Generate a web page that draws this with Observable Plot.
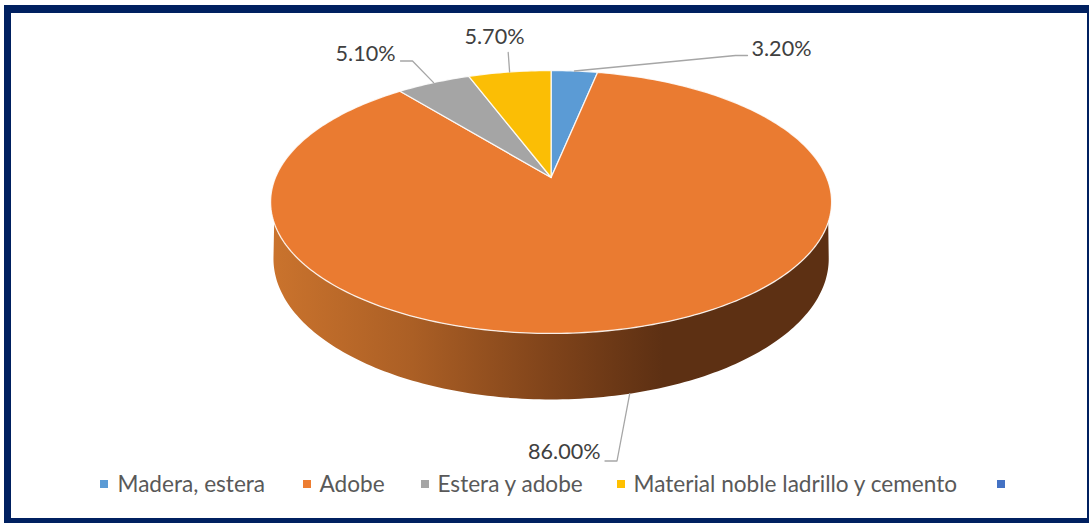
<!DOCTYPE html>
<html><head><meta charset="utf-8">
<script src="https://cdn.jsdelivr.net/npm/d3@7"></script>
<script src="https://cdn.jsdelivr.net/npm/@observablehq/plot@0.6"></script>
<style>html,body{margin:0;padding:0;background:#fff;overflow:hidden}svg{display:block}</style>
</head><body><div id="chart"></div>
<script>
// data
const categories = ["Madera, estera", "Adobe", "Estera y adobe", "Material noble ladrillo y cemento"];
const values = [3.2, 86.0, 5.1, 5.7];
const valueLabels = ["3.20%", "86.00%", "5.10%", "5.70%"];
const legendLabels = ["Madera, estera", "Adobe", "Estera y adobe", "Material noble ladrillo y cemento", ""];
const sliceColors = ["#5B9BD5", "#EA7B31", "#A5A5A5", "#FBBE05"];
const legendColors = ["#5B9BD5", "#ED7D31", "#A5A5A5", "#FFC000", "#4472C4"];

// layout (chart units = px)
const W = 1089, H = 523;
const P = {x0: 550.6, y0: 177, a: 275.6, b: 126.9, k: 0.1863, depth: 55.9, sink: 0.01};
const labelPos = [[751, 48.5], [600, 452], [395, 54], [464, 37]];
const labelAnchor = ["start", "end", "end", "start"];
const leaderVia = [[[735, 55], [747, 55]], [[616.5, 460.5], [604.5, 460.5]], [[412, 60.5], [400, 60.5]], [[507.7, 52]]];
const legendSwatch = [100, 303, 421, 617, 997];
const legendText = [117, 319, 437, 633, 1013];
const legendY = 484;

const rad = d => d * Math.PI / 180;
// perspective projection of the unit disc; lower=true is the bottom face of the pie
function project(deg, lower = false, r = 1) {
  const u = r * Math.sin(rad(deg)), v = -r * Math.cos(rad(deg));
  const den = 1 - P.k * v + (lower ? P.sink : 0);
  return {x: P.x0 + P.a * u / den, y: P.y0 + (P.b * v + (lower ? P.depth : 0)) / den};
}
const total = d3.sum(values);
let acc = 0;
const slices = values.map((v, i) => {
  const start = acc / total * 360; acc += v;
  const end = acc / total * 360;
  return {i, start, end, mid: (start + end) / 2};
});
function wedge(s) {
  const pts = [{x: P.x0, y: P.y0}];
  const n = Math.max(2, Math.ceil(s.end - s.start));
  for (let j = 0; j <= n; j++) pts.push(project(s.start + (s.end - s.start) * j / n));
  return pts;
}
function sidePoints() {
  const pts = [];
  for (let d = 109.4; d <= 250.6; d += 1) pts.push(project(d));
  for (let d = 260; d >= 100; d -= 1) pts.push(project(d, true));
  return pts;
}
const navy = "#002060";
const frameBars = [
  {x1: 4, x2: 1089, y1: 5, y2: 13},
  {x1: 4, x2: 11, y1: 5, y2: 523},
  {x1: 4, x2: 1089, y1: 518, y2: 523},
  {x1: 1087, x2: 1089, y1: 5, y2: 523}
];
const gradientMark = () => {
  const defs = d3.create("svg:defs");
  const g = defs.append("linearGradient").attr("id", "sideShade")
    .attr("gradientUnits", "userSpaceOnUse")
    .attr("x1", 272).attr("x2", 830).attr("y1", 0).attr("y2", 0);
  [[0, "#ca732d"], [0.25, "#ab5f25"], [0.5, "#7f431a"], [0.7, "#5d3013"], [1, "#5d3013"]]
    .forEach(([o, c]) => g.append("stop").attr("offset", o).attr("stop-color", c));
  return defs.node();
};
const leaders = slices.flatMap(s => {
  const start = project(s.mid, s.mid > 90 && s.mid < 270);
  return [start, ...leaderVia[s.i].map(([x, y]) => ({x, y}))].map(p => ({...p, z: s.i}));
});
const labels = slices.map(s => ({x: labelPos[s.i][0], y: labelPos[s.i][1], t: valueLabels[s.i], anchor: labelAnchor[s.i]}));
const legend = legendLabels.map((t, i) => ({t, c: legendColors[i], x1: legendSwatch[i], x2: legendSwatch[i] + 8, tx: legendText[i]}));

const font = "Lato, 'Noto Sans', sans-serif";
const chart = Plot.plot({
  width: W, height: H, margin: 0,
  x: {domain: [0, W], range: [0, W], axis: null},
  y: {domain: [0, H], range: [0, H], axis: null},
  style: {background: "#fff", fontFamily: font},
  marks: [
    gradientMark,
    Plot.line(sidePoints(), {x: "x", y: "y", curve: "linear-closed", fill: "url(#sideShade)", stroke: "none"}),
    ...slices.map(s => Plot.line(wedge(s), {x: "x", y: "y", curve: "linear-closed", fill: sliceColors[s.i], stroke: "#fff", strokeOpacity: 0.85, strokeWidth: 1.3})),
    Plot.line(leaders, {x: "x", y: "y", z: "z", stroke: "#a6a6a6", strokeWidth: 1.3}),
    ...["start", "end"].map(a => Plot.text(labels.filter(d => d.anchor === a), {x: "x", y: "y", text: "t", textAnchor: a, fontSize: 21.6, fill: "#404040", lineAnchor: "middle"})),
    Plot.rect(legend, {x1: "x1", x2: "x2", y1: legendY - 4, y2: legendY + 4, fill: "c"}),
    Plot.text(legend, {x: "tx", y: legendY, text: "t", textAnchor: "start", fontSize: 22.6, fill: "#595959", lineAnchor: "middle"}),
    Plot.rect(frameBars, {x1: "x1", x2: "x2", y1: "y1", y2: "y2", fill: navy})
  ]
});
document.getElementById("chart").appendChild(chart);
</script></body></html>
